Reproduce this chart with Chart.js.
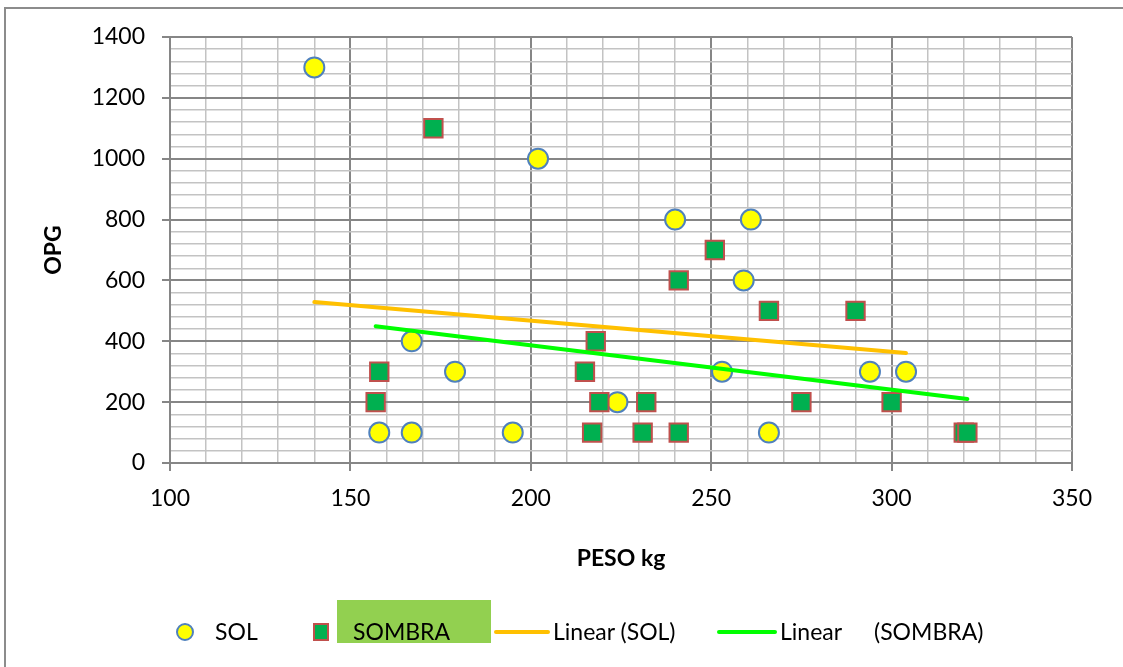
<!DOCTYPE html>
<html>
<head>
<meta charset="utf-8">
<title>OPG vs PESO</title>
<script src="https://cdn.jsdelivr.net/npm/chart.js@4.4.1/dist/chart.umd.min.js"></script>
<style>
  body { margin: 0; background: #fff; font-family: Lato, sans-serif; }
  #wrap { position: relative; width: 1123px; height: 667px; overflow: hidden; }
  #frame { position: absolute; left: 4px; top: 7px; width: 1300px; height: 800px;
           border-left: 2px solid #8c8c8c; border-top: 2px solid #8c8c8c; }
  canvas { position: absolute; left: 0; top: 0; }
  .leg { position: absolute; top: 620px; font-size: 23px; line-height: 23px; color: #000; white-space: nowrap; }
  .sym { position: absolute; box-sizing: border-box; }
</style>
</head>
<body>
<div id="wrap">
  <div id="frame"></div>
  <canvas id="grafico" width="1123" height="667"></canvas>

  <!-- leyenda -->
  <div class="sym" style="left:176px;top:623px;width:18px;height:18px;border-radius:50%;background:#ffff00;border:2px solid #4f81bd;"></div>
  <span class="leg" style="left:215px;">SOL</span>
  <div class="sym" style="left:313px;top:623px;width:16px;height:18px;background:#00b050;border:2px solid #c0504d;"></div>
  <div class="sym" style="left:337px;top:600px;width:154px;height:43px;background:#92d050;"></div>
  <span class="leg" style="left:353px;">SOMBRA</span>
  <div class="sym" style="left:494px;top:630px;width:56px;height:4px;border-radius:2px;background:#ffc000;"></div>
  <span class="leg" style="left:553px;">Linear (SOL)</span>
  <div class="sym" style="left:717px;top:630px;width:60px;height:4px;border-radius:2px;background:#00ff00;"></div>
  <span class="leg" style="left:780px;">Linear</span>
  <span class="leg" style="left:874px;">(SOMBRA)</span>
</div>

<script>
// datos: peso (kg) y OPG
const solPeso = [140, 202, 167, 179, 158, 167, 195, 224, 240, 261, 259, 253, 294, 304, 266];
const solOpg = [1300, 1000, 400, 300, 100, 100, 100, 200, 800, 800, 600, 300, 300, 300, 100];

const sombraPeso = [173, 158, 157, 215, 218, 219, 232, 217, 231, 241, 251, 241, 266, 290, 275, 300, 320, 321];
const sombraOpg = [1100, 300, 200, 300, 400, 200, 200, 100, 100, 100, 700, 600, 500, 500, 200, 200, 100, 100];

const xTicks = [100, 150, 200, 250, 300, 350];
const yTicks = [0, 200, 400, 600, 800, 1000, 1200, 1400];

function puntos(xs, ys) {
  return xs.map((x, i) => ({ x: x, y: ys[i] }));
}

// recta de minimos cuadrados entre el x minimo y el maximo
function tendencia(xs, ys) {
  const n = xs.length;
  const mx = xs.reduce((a, b) => a + b, 0) / n;
  const my = ys.reduce((a, b) => a + b, 0) / n;
  let sxy = 0, sxx = 0;
  for (let i = 0; i < n; i++) {
    sxy += (xs[i] - mx) * (ys[i] - my);
    sxx += (xs[i] - mx) * (xs[i] - mx);
  }
  const b = sxy / sxx;
  const a = my - b * mx;
  const x0 = Math.min(...xs), x1 = Math.max(...xs);
  return [{ x: x0, y: a + b * x0 }, { x: x1, y: a + b * x1 }];
}

const mayorX = (v) => xTicks.includes(Math.round(v));
const mayorY = (v) => yTicks.includes(Math.round(v));

Chart.defaults.font.family = "Lato";
Chart.defaults.color = "#000";

const config = {
  type: "scatter",
  data: {
    datasets: [
      {
        type: "line",
        label: "Linear (SOL)",
        data: tendencia(solPeso, solOpg),
        borderColor: "#ffc000",
        borderWidth: 4,
        borderCapStyle: "round",
        pointRadius: 0,
        fill: false,
        order: 0,
      },
      {
        type: "line",
        label: "Linear (SOMBRA)",
        data: tendencia(sombraPeso, sombraOpg),
        borderColor: "#00ff00",
        borderWidth: 4,
        borderCapStyle: "round",
        pointRadius: 0,
        fill: false,
        order: 0,
      },
      {
        label: "SOMBRA",
        data: puntos(sombraPeso, sombraOpg),
        pointStyle: "rect",
        pointRadius: 13,
        backgroundColor: "#00b050",
        borderColor: "#c0504d",
        borderWidth: 2,
        order: 1,
      },
      {
        label: "SOL",
        data: puntos(solPeso, solOpg),
        pointStyle: "circle",
        pointRadius: 10,
        backgroundColor: "#ffff00",
        borderColor: "#4f81bd",
        borderWidth: 2,
        order: 2,
      },
    ],
  },
  options: {
    responsive: false,
    animation: false,
    layout: { padding: { left: 20, top: 37, right: 51, bottom: 94 } },
    plugins: { legend: { display: false }, tooltip: { enabled: false } },
    scales: {
      x: {
        type: "linear",
        min: 100,
        max: 350,
        afterFit: (s) => { s.height = 110; },
        ticks: {
          stepSize: 10,
          autoSkip: false,
          maxRotation: 0,
          padding: 14,
          font: { size: 23 },
          callback: (v) => (mayorX(v) ? v : ""),
        },
        grid: {
          color: (c) => (mayorX(c.tick.value) ? "#868686" : "#c3c3c3"),
          lineWidth: (c) => (mayorX(c.tick.value) ? 2 : 1.5),
          tickLength: 8,
          tickWidth: 2,
          tickColor: (c) => (mayorX(c.tick.value) ? "#868686" : "rgba(0,0,0,0)"),
        },
        border: { color: "#868686", width: 2 },
        title: {
          display: true,
          text: "PESO kg",
          font: { size: 23, weight: "bold" },
          padding: { top: 0, bottom: 1 },
        },
      },
      y: {
        min: 0,
        max: 1400,
        afterFit: (s) => { s.width = 150; },
        ticks: {
          stepSize: 40,
          autoSkip: false,
          padding: 17,
          font: { size: 23 },
          callback: (v) => (mayorY(v) ? v : ""),
        },
        grid: {
          color: (c) => (mayorY(c.tick.value) ? "#868686" : "#c3c3c3"),
          lineWidth: (c) => (mayorY(c.tick.value) ? 2 : 1.5),
          tickLength: 8,
          tickWidth: 2,
          tickColor: (c) => (mayorY(c.tick.value) ? "#868686" : "rgba(0,0,0,0)"),
        },
        border: { color: "#868686", width: 2 },
        title: {
          display: true,
          text: "OPG",
          font: { size: 23, weight: "bold" },
          padding: { top: 20, bottom: 0 },
        },
      },
    },
  },
};

const grafico = new Chart(document.getElementById("grafico"), config);
</script>
</body>
</html>
